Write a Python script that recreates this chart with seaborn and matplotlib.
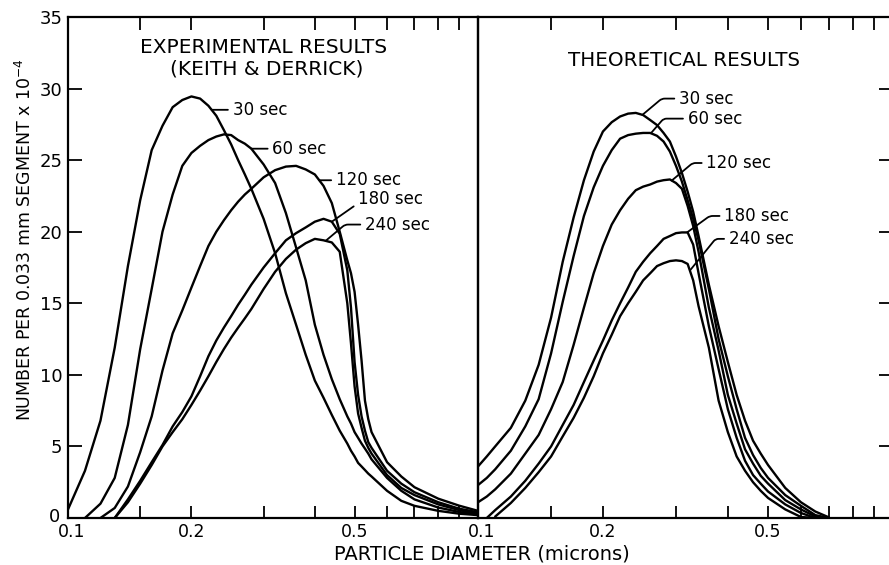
import numpy as np
import pandas as pd
import matplotlib
matplotlib.use("Agg")
import matplotlib.pyplot as plt
import matplotlib.transforms as mtransforms
from matplotlib.ticker import FixedLocator, NullFormatter
import seaborn as sns

nan = np.nan

# ---------------- data ----------------
times = ["30 sec", "60 sec", "120 sec", "180 sec", "240 sec"]

# Experimental results (Keith & Derrick): particle diameter in microns
exp_diameter = [0.10, 0.11, 0.12, 0.13, 0.14, 0.15, 0.16, 0.17, 0.18, 0.19, 0.20,
                0.21, 0.22, 0.23, 0.24, 0.25, 0.26, 0.27, 0.28,
                0.30, 0.32, 0.34, 0.36, 0.38, 0.40, 0.42, 0.44, 0.46, 0.48, 0.49,
                0.50, 0.51, 0.52, 0.53, 0.54, 0.55, 0.60, 0.65, 0.70, 0.80, 0.90,
                1.00]
exp_30 = [0.6, 3.3, 6.8, 11.9, 17.6, 22.2, 25.7, 27.4, 28.7, 29.2, 29.45,
          29.3, 28.8, 28.1, 27.1, 26.1, 25.0, 24.0, 23.0,
          20.9, 18.5, 15.7, 13.5, 11.4, 9.6, 8.4, 7.2, 6.1, 5.2, 4.7, 4.3, 3.85,
          3.6, 3.35, 3.1, 2.9, 1.9, 1.2, 0.85, 0.5, 0.3, 0.2]
exp_60 = [nan, 0.0, 1.0, 2.8, 6.5, 11.8, 16.0, 20.0, 22.6, 24.6, 25.5,
          26.0, 26.4, 26.65, 26.8, 26.75, 26.4, 26.15, 25.8,
          24.7, 23.4, 21.3, 18.9, 16.6, 13.5, 11.4, 9.7, 8.3, 7.1, 6.6, 6.0, 5.6,
          5.2, 4.85, 4.5, 4.1, 2.8, 1.9, 1.3, 0.73, 0.42, 0.25]
exp_120 = [nan, nan, 0.0, 0.7, 2.2, 4.6, 7.1, 10.3, 12.9, 14.5, 16.1,
           17.6, 19.0, 20.0, 20.8, 21.5, 22.1, 22.6, 23.0,
           23.8, 24.3, 24.55, 24.6, 24.35, 24.0, 23.2, 22.0, 20.0, 18.0, 17.1,
           15.8, 13.5, 11.0, 8.2, 6.9, 6.0, 3.9, 2.9, 2.15, 1.35, 0.86, 0.5]
exp_180 = [nan, nan, nan, 0.0, 1.3, 2.6, 3.9, 5.1, 6.4, 7.4, 8.5,
           9.9, 11.3, 12.4, 13.3, 14.1, 14.9, 15.6, 16.3,
           17.5, 18.5, 19.4, 19.9, 20.3, 20.7, 20.9, 20.7, 19.85, 17.3, 14.7,
           10.9, 8.6, 7.1, 6.1, 5.3, 4.9, 3.3, 2.4, 1.8, 1.1, 0.65, 0.4]
exp_240 = [nan, nan, nan, 0.0, 1.1, 2.4, 3.7, 5.0, 6.0, 6.9, 7.9,
           8.9, 9.9, 10.9, 11.8, 12.6, 13.3, 13.95, 14.6,
           16.0, 17.2, 18.1, 18.75, 19.2, 19.5, 19.4, 19.25, 18.6, 15.0, 12.2,
           9.2, 7.3, 6.3, 5.4, 4.9, 4.5, 3.0, 2.1, 1.6, 0.95, 0.55, 0.3]

# Theoretical results
theo_diameter = [0.10, 0.105, 0.11, 0.12, 0.13, 0.14, 0.15, 0.16, 0.17, 0.18, 0.19,
                 0.20, 0.21, 0.22, 0.23, 0.24, 0.25, 0.26, 0.27, 0.28, 0.29, 0.30,
                 0.31, 0.32, 0.33, 0.34, 0.36, 0.38, 0.40, 0.42, 0.44, 0.46, 0.48,
                 0.50, 0.55, 0.60, 0.65, 0.70]
theo_30 = [3.6, 4.3, 5.0, 6.3, 8.2, 10.7, 14.0, 17.9, 21.0, 23.6, 25.6, 27.0,
           27.65, 28.05, 28.25, 28.3, 28.15, 27.8, 27.45, 26.9, 26.3, 25.25, 24.1,
           22.8, 21.4, 19.7,
           16.3, 13.4, 10.9, 8.6, 6.8, 5.4, 4.5, 3.7, 2.1, 1.1, 0.45, 0.05]
theo_60 = [2.3, 2.8, 3.4, 4.7, 6.4, 8.3, 11.5, 15.1, 18.3, 21.1, 23.1, 24.6,
           25.7, 26.5, 26.75, 26.85, 26.9, 26.9, 26.7, 26.3, 25.6, 24.6, 23.5,
           22.2, 20.9, 19.4,
           16.0, 12.5, 9.9, 7.6, 5.6, 4.4, 3.5, 2.8, 1.6, 0.85, 0.2, 0.0]
theo_120 = [1.1, 1.5, 2.0, 3.1, 4.5, 5.8, 7.6, 9.5, 12.1, 14.7, 17.1, 19.0,
            20.5, 21.5, 22.3, 22.9, 23.15, 23.3, 23.5, 23.6, 23.65, 23.4, 23.0,
            21.8, 20.4, 18.6,
            14.7, 11.7, 8.6, 6.6, 4.8, 3.8, 2.95, 2.4, 1.25, 0.6, 0.1, 0.0]
theo_180 = [nan, 0.0, 0.55, 1.5, 2.6, 3.8, 5.0, 6.5, 7.9, 9.5, 11.0, 12.4,
            13.8, 15.0, 16.1, 17.2, 17.9, 18.5, 19.0, 19.5, 19.7, 19.9, 19.95,
            19.95, 19.1, 17.1,
            13.4, 10.4, 7.6, 5.6, 4.0, 3.0, 2.4, 1.85, 0.95, 0.35, 0.0, nan]
theo_240 = [nan, nan, 0.1, 1.05, 2.1, 3.2, 4.3, 5.7, 7.0, 8.4, 9.9, 11.5,
            12.8, 14.1, 15.0, 15.8, 16.6, 17.1, 17.6, 17.8, 17.95, 18.0, 17.95,
            17.75, 16.6, 14.8,
            11.9, 8.2, 6.0, 4.3, 3.3, 2.5, 1.9, 1.4, 0.6, 0.07, 0.0, nan]

y_ticks = [0, 5, 10, 15, 20, 25, 30, 35]
x_major = [0.1, 0.2, 0.5]
x_major_labels = ["0.1", "0.2", "0.5"]
x_minor = [0.15, 0.3, 0.4, 0.6, 0.7, 0.8, 0.9]


def long_table(diam, series):
    rows = []
    for label, vals in zip(times, series):
        for d, v in zip(diam, vals):
            if not np.isnan(v):
                rows.append((label, d, v))
    return pd.DataFrame(rows, columns=["time", "diameter", "number"])


exp_df = long_table(exp_diameter, [exp_30, exp_60, exp_120, exp_180, exp_240])
theo_df = long_table(theo_diameter, [theo_30, theo_60, theo_120, theo_180, theo_240])

# ---------------- style ----------------
sns.set_theme(style="white")
plt.rcParams["font.family"] = ["DejaVu Sans"]
plt.rcParams["axes.linewidth"] = 1.6

W, H = 889, 565
fig = plt.figure(figsize=(W / 100, H / 100), dpi=100)
fig.patch.set_facecolor("white")

x0, x_mid, x1 = 68, 478, 893
y_bot, y_top = 518, 17
ax_e = fig.add_axes([x0 / W, 1 - y_bot / H, (x_mid - x0) / W, (y_bot - y_top) / H])
ax_t = fig.add_axes([x_mid / W, 1 - y_bot / H, (x1 - x_mid) / W, (y_bot - y_top) / H])

black = ["black"] * len(times)
for ax, df in ((ax_e, exp_df), (ax_t, theo_df)):
    sns.lineplot(data=df, x="diameter", y="number", hue="time", hue_order=times,
                 palette=black, estimator=None, sort=False, legend=False,
                 linewidth=1.7, ax=ax)
    ax.set_xscale("log")
    ax.set_xlim(0.1, 1.0)
    ax.set_ylim(0, 35)
    ax.set_xlabel("")
    ax.set_ylabel("")
    ax.xaxis.set_major_locator(FixedLocator(x_major))
    ax.xaxis.set_minor_locator(FixedLocator(x_minor))
    ax.set_xticklabels(x_major_labels)
    ax.xaxis.set_minor_formatter(NullFormatter())
    ax.tick_params(axis="x", which="both", direction="in", length=9, width=1.3,
                   top=True, bottom=True, labelsize=12.5, pad=3.5, colors="black")
    for s in ax.spines.values():
        s.set_color("black")
        s.set_linewidth(1.6)
    ax.set_facecolor("none")
    # nudge the "0.1" label off the panel corner
    first = ax.get_xticklabels()[0]
    first.set_transform(first.get_transform() +
                        mtransforms.ScaledTranslation(4 / 100, 0, fig.dpi_scale_trans))

ax_e.set_yticks(y_ticks)
ax_e.tick_params(axis="y", direction="in", length=10, width=1.3, left=True,
                 right=False, labelsize=13, pad=4, colors="black")
ax_t.set_yticks(y_ticks)
ax_t.tick_params(axis="y", direction="in", length=10, width=1.3, left=False,
                 right=True, labelleft=False, labelright=False, colors="black")
zero_lbl = ax_e.get_yticklabels()[0]
zero_lbl.set_transform(zero_lbl.get_transform() +
                       mtransforms.ScaledTranslation(-2 / 100, 3 / 100, fig.dpi_scale_trans))


# ---------------- curve labels ----------------
def curve_value(diam, vals, d):
    d_arr = np.array(diam, float)
    v_arr = np.array(vals, float)
    ok = ~np.isnan(v_arr)
    return float(np.interp(np.log10(d), np.log10(d_arr[ok]), v_arr[ok]))


def tag(ax, text, diam, vals, d_anchor, d_text, v_text=None, angle=None):
    v_anchor = curve_value(diam, vals, d_anchor)
    if v_text is None:
        v_text = v_anchor
    conn = "arc3" if angle is None else f"angle,angleA=0,angleB={angle},rad=3"
    ax.annotate(text, xy=(d_anchor, v_anchor), xytext=(d_text, v_text),
                ha="left", va="center", fontsize=12, color="black",
                arrowprops=dict(arrowstyle="-", color="black", lw=1.3,
                                shrinkA=1, shrinkB=0, relpos=(0, 0.5),
                                connectionstyle=conn))


tag(ax_e, "30 sec", exp_diameter, exp_30, 0.224, 0.252)
tag(ax_e, "60 sec", exp_diameter, exp_60, 0.280, 0.315)
tag(ax_e, "120 sec", exp_diameter, exp_120, 0.410, 0.450)
tag(ax_e, "180 sec", exp_diameter, exp_180, 0.440, 0.510, 22.3, angle=35)
tag(ax_e, "240 sec", exp_diameter, exp_240, 0.425, 0.530, 20.5, angle=40)

tag(ax_t, "30 sec", theo_diameter, theo_30, 0.249, 0.305, 29.3, angle=40)
tag(ax_t, "60 sec", theo_diameter, theo_60, 0.261, 0.320, 27.9, angle=49)
tag(ax_t, "120 sec", theo_diameter, theo_120, 0.293, 0.355, 24.8, angle=40)
tag(ax_t, "180 sec", theo_diameter, theo_180, 0.319, 0.392, 21.1, angle=36)
tag(ax_t, "240 sec", theo_diameter, theo_240, 0.324, 0.402, 19.5, angle=51)

# ---------------- titles and axis labels ----------------
ax_e.text(0.478, 0.940, "EXPERIMENTAL RESULTS", transform=ax_e.transAxes,
          ha="center", va="center", fontsize=14.5, color="black")
ax_e.text(0.485, 0.896, "(KEITH & DERRICK)", transform=ax_e.transAxes,
          ha="center", va="center", fontsize=14.5, color="black")
ax_t.text(0.496, 0.914, "THEORETICAL RESULTS", transform=ax_t.transAxes,
          ha="center", va="center", fontsize=14.3, color="black")

fig.text(482 / W, 1 - 564 / H, "PARTICLE DIAMETER (microns)", ha="center",
         va="bottom", fontsize=14, color="black")
fig.text(25 / W, 1 - 240 / H, "NUMBER PER 0.033 mm SEGMENT x 10$^{-4}$",
         rotation=90, ha="center", va="center", fontsize=12.5, color="black")

fig.savefig("out.png", dpi=100, facecolor="white")
